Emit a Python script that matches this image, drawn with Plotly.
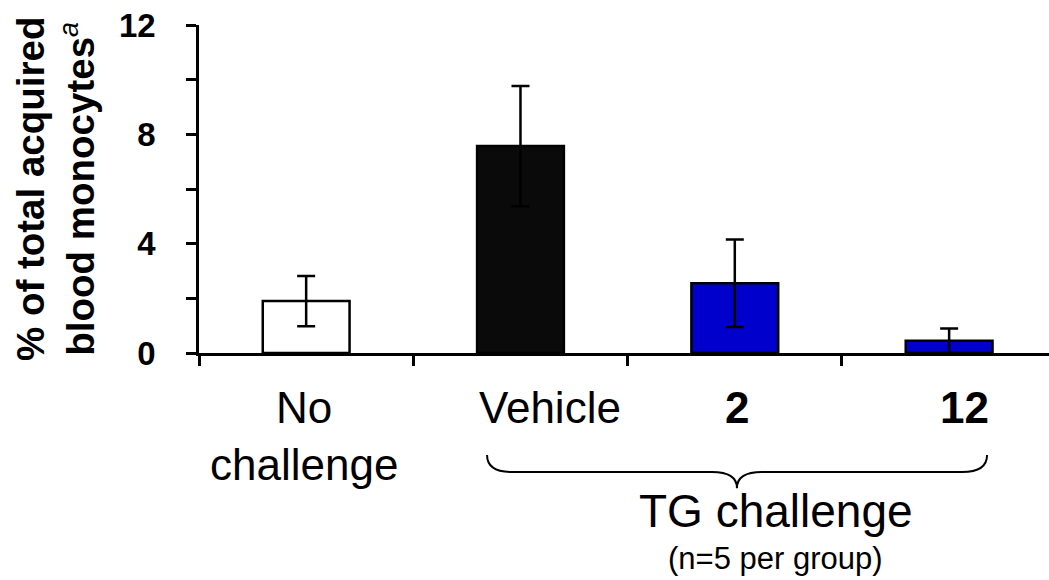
import plotly.graph_objects as go

# ---- data ----
groups = ["No challenge", "Vehicle", "2", "12"]
values = [1.9, 7.57, 2.55, 0.45]
errors = [0.92, 2.2, 1.6, 0.45]
bar_colors = ["#ffffff", "#0a0a0a", "#0000cc", "#0000cc"]
y_tick_vals = [0, 2, 4, 6, 8, 10, 12]
y_tick_text = ["0", "", "4", "", "8", "", "12"]
x_labels = ["No<br>challenge", "Vehicle", "<b>2</b>", "<b>12</b>"]
x_label_shift = [-2, 30, 2, 15]

pos = list(range(len(groups)))

fig = go.Figure()
fig.add_trace(go.Bar(
    x=pos, y=values, width=0.405,
    marker=dict(color=bar_colors, line=dict(color="black", width=2.5)),
    error_y=dict(type="data", array=errors, visible=True,
                 color="black", thickness=2.5, width=9),
    showlegend=False, hoverinfo="skip",
))

FONT = "Liberation Sans, Arial, sans-serif"

fig.update_layout(
    width=1049, height=580,
    margin=dict(l=199, r=0, t=25, b=227),
    paper_bgcolor="white", plot_bgcolor="white",
    font=dict(family=FONT, color="black"),
    xaxis=dict(range=[-0.5, 3.466], showgrid=False, zeroline=False,
               showline=True, linecolor="black", linewidth=2.5,
               tickmode="array", tickvals=[-0.5, 0.5, 1.5, 2.5],
               ticktext=["", "", "", ""], ticks="outside", ticklen=10,
               tickwidth=2.5, tickcolor="black"),
    yaxis=dict(range=[0, 12], showgrid=False, zeroline=False,
               showline=True, linecolor="black", linewidth=2.5,
               tickmode="array", tickvals=y_tick_vals, ticktext=y_tick_text,
               ticks="outside", ticklen=10, tickwidth=2.5, tickcolor="black",
               tickfont=dict(family=FONT, size=33, color="black", weight="bold"),
               ticklabelstandoff=24),
)

# y-axis title as rotated annotation
fig.add_annotation(
    text="<b>% of total acquired<br>blood monocytes</b><sup><i>a</i></sup>",
    xref="paper", yref="paper", x=(55 - 199) / 850, y=0.5,
    xanchor="center", yanchor="middle", textangle=-90, showarrow=False,
    font=dict(family=FONT, size=38.5, color="black"),
)

# category labels
for i, (lab, sh) in enumerate(zip(x_labels, x_label_shift)):
    fig.add_annotation(
        text=lab, x=pos[i], xshift=sh, xref="x", yref="paper", y=-0.085,
        xanchor="center", yanchor="top", showarrow=False,
        font=dict(family=FONT, size=44, color="black"),
    )

# brace under TG-challenge groups
L, M, R = 0.844, 2.01, 3.177
yt, ym, yb = -0.311, -0.363, -0.412
d = 0.117
path = (f"M {L},{yt} Q {L},{ym} {L+d},{ym} L {M-d},{ym} Q {M},{ym} {M},{yb} "
        f"Q {M},{ym} {M+d},{ym} L {R-d},{ym} Q {R},{ym} {R},{yt}")
fig.add_shape(type="path", path=path, xref="x", yref="paper",
              line=dict(color="black", width=2))

fig.add_annotation(text="TG challenge", x=2.19, xref="x", yref="paper", y=-0.395,
                   xanchor="center", yanchor="top", showarrow=False,
                   font=dict(family=FONT, size=46, color="black"))
fig.add_annotation(text="(n=5 per group)", x=2.19, xref="x", yref="paper", y=-0.568,
                   xanchor="center", yanchor="top", showarrow=False,
                   font=dict(family=FONT, size=31, color="black"))

fig.write_html("out.html", config={"displayModeBar": False},
               post_script="document.body.style.margin='0';document.body.style.overflow='hidden';")
